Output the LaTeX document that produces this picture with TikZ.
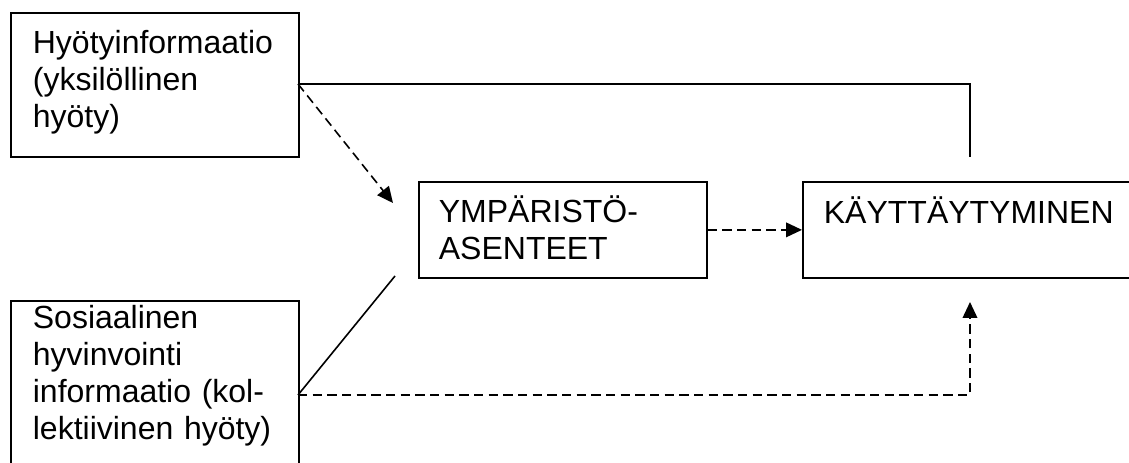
\documentclass[tikz,border=0pt]{standalone}
\usepackage{fontspec}
\setmainfont{Liberation Sans}
\usepackage{tikz}
\usetikzlibrary{arrows.meta}

\begin{document}
\begin{tikzpicture}[x=0.75pt,y=0.75pt,yscale=-1,xscale=1,
  infobox/.style={draw, line width=1.3pt, anchor=north west, align=left, inner ysep=0pt,
    font=\fontsize{24}{27.75}\selectfont},
  solidline/.style={line width=1.2pt},
  dashline/.style={line width=1.2pt, dash pattern=on 7pt off 4pt},
  tip/.style={-{Triangle[length=12pt,width=11pt]}}]
\useasboundingbox (0,0) rectangle (1129,463);
\node (hyoty) at (10,12) [infobox, inner xsep=16.5pt, text width=183pt, text height=30.75pt, text depth=77.25pt] {Hyötyinformaatio\\(yksilöllinen\\hyöty)};
\node (sosi) at (10,300) [infobox, inner xsep=16.5pt, text width=183pt, text height=21pt, text depth=129pt] {Sosiaalinen\\hyvinvointi\\informaatio (kol-\\lektiivinen hyöty)};
\node (asen) at (418,181) [infobox, inner xsep=15pt, text width=186pt, text height=30.75pt, text depth=41.25pt] {YMPÄRISTÖ-\\ASENTEET};
\node (kayt) at (802,181) [infobox, inner xsep=15.75pt, text width=223.5pt, text height=31.5pt, text depth=40.5pt] {KÄYTTÄYTYMINEN};
\coordinate (hyotyout) at (298,84);
\coordinate (sosiout) at (298,395);
\coordinate (kaytup) at (970,157);
\coordinate (kaytdown) at (970,302);
\coordinate (asentip) at (393,203);
\coordinate (asenlow) at (395,276);
\draw [solidline] (hyotyout) -| (kaytup) ;
\draw [dashline, tip] (hyotyout) -- (asentip) ;
\draw [solidline] (sosiout) -- (asenlow) ;
\draw [dashline, tip] (sosiout) -| (kaytdown) ;
\draw [dashline, tip] (asen.east) -- (kayt.west) ;
\end{tikzpicture}
\end{document}
